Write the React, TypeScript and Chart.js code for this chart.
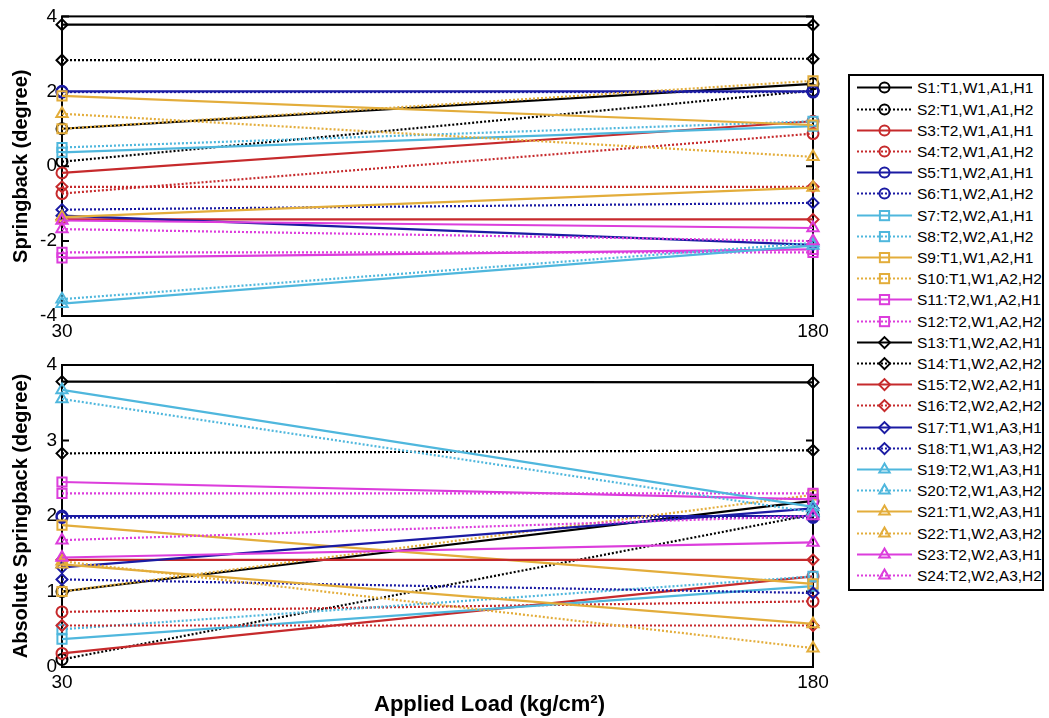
import React, { useEffect, useRef } from 'react';
import { Chart, registerables } from 'chart.js';

Chart.register(...registerables);

// ---------------- data ----------------
const seriesLabels = [
  'S1:T1,W1,A1,H1', 'S2:T1,W1,A1,H2', 'S3:T2,W1,A1,H1', 'S4:T2,W1,A1,H2',
  'S5:T1,W2,A1,H1', 'S6:T1,W2,A1,H2', 'S7:T2,W2,A1,H1', 'S8:T2,W2,A1,H2',
  'S9:T1,W1,A2,H1', 'S10:T1,W1,A2,H2', 'S11:T2,W1,A2,H1', 'S12:T2,W1,A2,H2',
  'S13:T1,W2,A2,H1', 'S14:T1,W2,A2,H2', 'S15:T2,W2,A2,H1', 'S16:T2,W2,A2,H2',
  'S17:T1,W1,A3,H1', 'S18:T1,W1,A3,H2', 'S19:T2,W1,A3,H1', 'S20:T2,W1,A3,H2',
  'S21:T1,W2,A3,H1', 'S22:T1,W2,A3,H2', 'S23:T2,W2,A3,H1', 'S24:T2,W2,A3,H2',
];

const appliedLoad = [30, 180];
const loadTicks = [30, 180];

// Springback (degree), signed
const springbackAt30 = [
  1.0, 0.12, -0.18, -0.73, 2.0, 1.98, 0.37, 0.5, 1.88, 1.0, -2.45, -2.3,
  3.78, 2.83, -1.42, -0.55, -1.32, -1.16, -3.67, -3.55, -1.36, 1.4, -1.45, -1.68,
];
const springbackAt180 = [
  2.2, 2.02, 1.2, 0.87, 2.0, 1.98, 1.07, 1.2, 1.1, 2.28, -2.22, -2.3,
  3.77, 2.87, -1.42, -0.55, -2.1, -0.98, -2.12, -2.05, -0.57, 0.25, -1.65, -2.0,
];

// Absolute springback (degree)
const absSpringbackAt30 = [
  1.0, 0.1, 0.18, 0.73, 2.0, 1.98, 0.37, 0.5, 1.88, 1.0, 2.45, 2.3,
  3.78, 2.83, 1.42, 0.55, 1.32, 1.16, 3.67, 3.55, 1.36, 1.4, 1.45, 1.68,
];
const absSpringbackAt180 = [
  2.2, 2.02, 1.2, 0.87, 2.0, 1.98, 1.07, 1.2, 1.1, 2.28, 2.22, 2.3,
  3.77, 2.87, 1.42, 0.55, 2.1, 0.98, 2.12, 2.05, 0.57, 0.25, 1.65, 2.0,
];

const springbackTicks = [-4, -2, 0, 2, 4];
const absSpringbackTicks = [0, 1, 2, 3, 4];

const xAxisTitle = 'Applied Load (kg/cm\u00B2)';

// ---------------- styles ----------------
const FONT = "'Liberation Sans', Arial, Helvetica, sans-serif";
const BLACK = '#000000';
const RED = '#c62a2c';
const BLUE = '#1b1ba3';
const CYAN = '#4fb7dd';
const GOLD = '#e3ad3b';
const MAGENTA = '#dc3ddc';

const seriesColors = [
  BLACK, BLACK, RED, RED, BLUE, BLUE, CYAN, CYAN, GOLD, GOLD, MAGENTA, MAGENTA,
  BLACK, BLACK, RED, RED, BLUE, BLUE, CYAN, CYAN, GOLD, GOLD, MAGENTA, MAGENTA,
];
type Marker = 'circle' | 'square' | 'diamond' | 'triangle';
const seriesMarkers: Marker[] = [
  'circle', 'circle', 'circle', 'circle', 'circle', 'circle',
  'square', 'square', 'square', 'square', 'square', 'square',
  'diamond', 'diamond', 'diamond', 'diamond', 'diamond', 'diamond',
  'triangle', 'triangle', 'triangle', 'triangle', 'triangle', 'triangle',
];
const seriesDotted = seriesLabels.map((l) => l.endsWith('H2'));

const markerStyle: Record<Marker, { style: string; r: number }> = {
  circle: { style: 'circle', r: 5.5 },
  square: { style: 'rect', r: 6.5 },
  diamond: { style: 'rectRot', r: 5.5 },
  triangle: { style: 'triangle', r: 6.5 },
};

const framePlugin = {
  id: 'matlabFrame',
  beforeDatasetsDraw(chart: any) {
    const { ctx, chartArea } = chart;
    const { left, right, top, bottom } = chartArea;
    const y = chart.scales.y;
    ctx.save();
    ctx.strokeStyle = '#000';
    ctx.lineWidth = 2;
    ctx.strokeRect(left, top, right - left, bottom - top);
    ctx.beginPath();
    y.ticks.forEach((t: any) => {
      const py = y.getPixelForValue(t.value);
      ctx.moveTo(left, py);
      ctx.lineTo(left + 7, py);
      ctx.moveTo(right, py);
      ctx.lineTo(right - 7, py);
    });
    ctx.stroke();
    ctx.restore();
  },
  afterDraw(chart: any) {
    const text = chart.options.plugins?.matlabFrame?.xTitle;
    if (!text) return;
    const { ctx, chartArea } = chart;
    ctx.save();
    ctx.fillStyle = '#000';
    ctx.font = `bold 22px ${FONT}`;
    ctx.textAlign = 'center';
    ctx.textBaseline = 'middle';
    const cx = (chartArea.left + chartArea.right) / 2 + 52;
    ctx.fillText(text, cx, chart.height - 13);
    ctx.restore();
  },
};

function makeChart(
  canvas: HTMLCanvasElement,
  v30: number[],
  v180: number[],
  yMin: number,
  yMax: number,
  yTicks: number[],
  yTitle: string,
  xTitle: string | null,
  padTop: number,
  xAxisHeight: number,
) {
  const datasets = seriesLabels.map((label, i) => {
    const m = markerStyle[seriesMarkers[i]];
    return {
      label,
      data: appliedLoad.map((x, k) => ({ x, y: k === 0 ? v30[i] : v180[i] })),
      borderColor: seriesColors[i],
      backgroundColor: 'rgba(0,0,0,0)',
      borderWidth: 2.2,
      borderDash: seriesDotted[i] ? [2, 2] : [],
      pointStyle: m.style,
      pointRadius: m.r,
      pointBorderWidth: 2,
      pointBorderColor: seriesColors[i],
      pointBackgroundColor: 'rgba(0,0,0,0)',
      tension: 0,
      clip: false as any,
      order: seriesLabels.length - 1 - i,
    };
  });
  return new Chart(canvas, {
    type: 'line',
    data: { datasets },
    plugins: [framePlugin],
    options: {
      animation: false,
      responsive: false,
      devicePixelRatio: 1,
      layout: { padding: { top: padTop, right: 37, left: 0, bottom: 0 } },
      plugins: {
        legend: { display: false },
        tooltip: { enabled: false },
        matlabFrame: { xTitle },
      },
      scales: {
        x: {
          type: 'linear',
          min: 30,
          max: 180,
          afterBuildTicks: (s: any) => {
            s.ticks = loadTicks.map((v) => ({ value: v }));
          },
          afterFit: (s: any) => {
            s.height = xAxisHeight;
          },
          grid: { display: false, drawTicks: false },
          border: { display: false },
          ticks: {
            padding: 4,
            color: '#000',
            font: { family: FONT, size: 19 },
            maxRotation: 0,
            autoSkip: false,
            callback: (v: any) => String(v),
          },
          title: { display: false },
        },
        y: {
          type: 'linear',
          min: yMin,
          max: yMax,
          afterBuildTicks: (s: any) => {
            s.ticks = yTicks.map((v) => ({ value: v }));
          },
          afterFit: (s: any) => {
            s.width = 62;
          },
          grid: { display: false, drawTicks: false },
          border: { display: false },
          ticks: {
            padding: 5,
            color: '#000',
            font: { family: FONT, size: 19 },
            autoSkip: false,
            callback: (v: any) => String(v),
          },
          title: {
            display: true,
            text: yTitle,
            color: '#000',
            font: { family: FONT, size: 20, weight: 'bold' },
            padding: { top: 9, bottom: 0 },
          },
        },
      },
    } as any,
  });
}

function LegendMarker({ marker, color }: { marker: Marker; color: string }) {
  const cx = 34.5;
  const cy = 10.6;
  if (marker === 'circle') {
    return <circle cx={cx} cy={cy} r={5} fill="none" stroke={color} strokeWidth={2} />;
  }
  if (marker === 'square') {
    return <rect x={cx - 4.6} y={cy - 4.6} width={9.2} height={9.2} fill="none" stroke={color} strokeWidth={2} />;
  }
  if (marker === 'diamond') {
    const r = 5.5;
    return (
      <polygon
        points={`${cx},${cy - r} ${cx + r},${cy} ${cx},${cy + r} ${cx - r},${cy}`}
        fill="none"
        stroke={color}
        strokeWidth={2}
      />
    );
  }
  const r = 6;
  const h = r * Math.sqrt(3) / 2;
  return (
    <polygon
      points={`${cx},${cy - r} ${cx + h},${cy + r / 2} ${cx - h},${cy + r / 2}`}
      fill="none"
      stroke={color}
      strokeWidth={2}
    />
  );
}

export default function App() {
  const topRef = useRef<HTMLCanvasElement>(null);
  const bottomRef = useRef<HTMLCanvasElement>(null);

  useEffect(() => {
    const c1 = makeChart(
      topRef.current!, springbackAt30, springbackAt180, -4, 4, springbackTicks,
      'Springback (degree)', null, 15, 29,
    );
    const c2 = makeChart(
      bottomRef.current!, absSpringbackAt30, absSpringbackAt180, 0, 4, absSpringbackTicks,
      'Absolute Springback (degree)', xAxisTitle, 20, 51,
    );
    return () => {
      c1.destroy();
      c2.destroy();
    };
  }, []);

  return (
    <div style={{ position: 'absolute', left: 0, top: 0, width: 1049, height: 718, background: '#fff', overflow: 'hidden' }}>
      <canvas ref={topRef} width={850} height={345} style={{ position: 'absolute', left: 0, top: 0 }} />
      <canvas ref={bottomRef} width={850} height={373} style={{ position: 'absolute', left: 0, top: 345 }} />
      <div
        style={{
          position: 'absolute', left: 848, top: 74, width: 196, height: 517,
          border: '2px solid #000', boxSizing: 'border-box', background: '#fff',
        }}
      >
        {seriesLabels.map((lab, i) => (
          <div
            key={lab}
            style={{
              position: 'absolute', left: 0, top: 1.4 + i * 21.2, height: 21.2,
              display: 'flex', alignItems: 'center', whiteSpace: 'nowrap',
            }}
          >
            <svg width={67} height={21.2} style={{ display: 'block', flex: 'none' }}>
              <line
                x1={7} y1={10.6} x2={62} y2={10.6}
                stroke={seriesColors[i]} strokeWidth={2}
                strokeDasharray={seriesDotted[i] ? '2 2' : undefined}
              />
              <LegendMarker marker={seriesMarkers[i]} color={seriesColors[i]} />
            </svg>
            <span style={{ fontFamily: FONT, fontSize: 15.5, color: '#000', lineHeight: '21px' }}>{lab}</span>
          </div>
        ))}
      </div>
    </div>
  );
}
